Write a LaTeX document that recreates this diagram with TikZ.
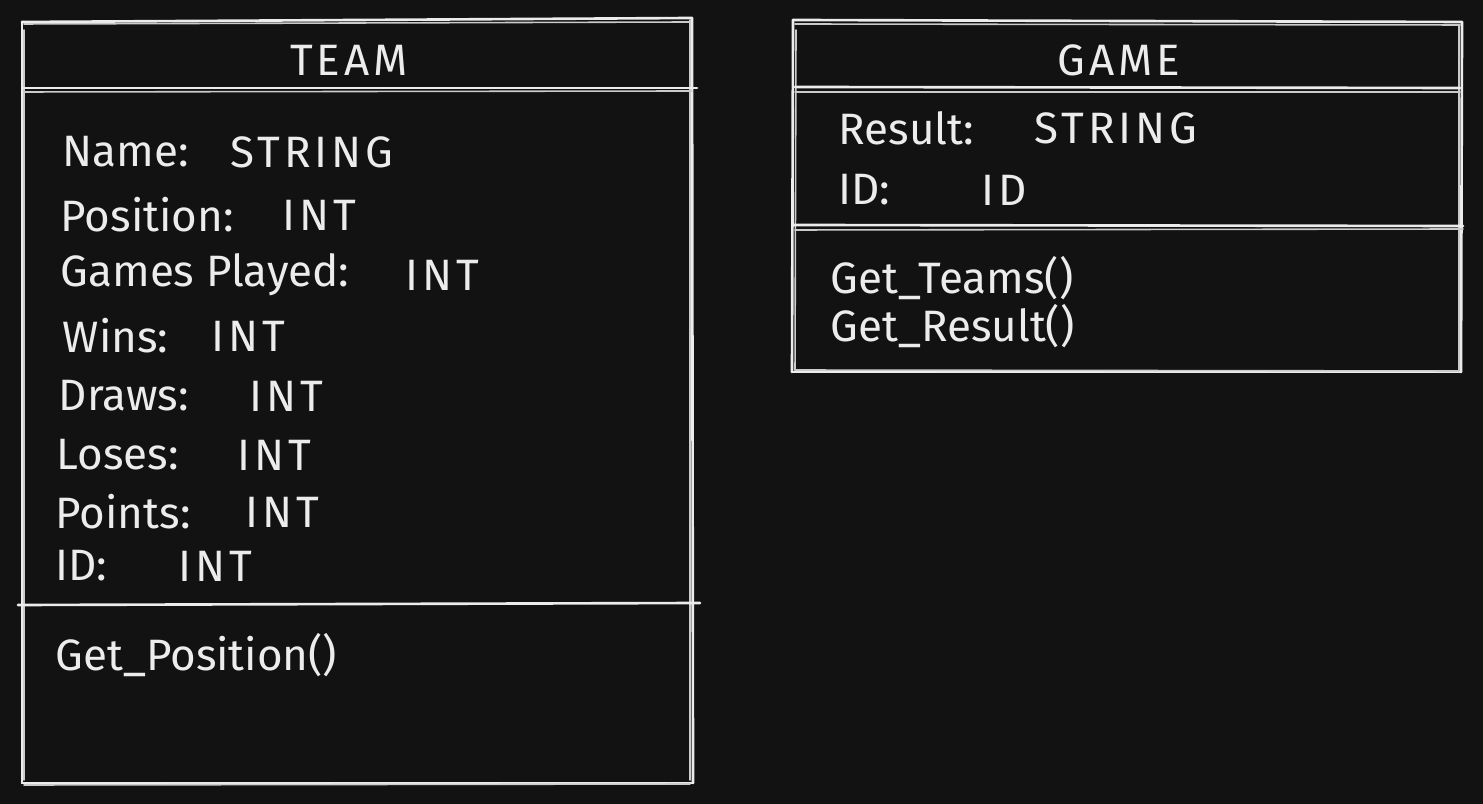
\documentclass[tikz,border=0pt]{standalone}
\usepackage{fontspec}
\setmainfont{Fira Sans}
\newfontfamily\capsfont[LetterSpace=9]{Fira Sans}
\definecolor{bg}{HTML}{121212}
\definecolor{ink}{HTML}{ECECEC}
\tikzset{
  ln/.style={draw=ink, line width=0.75pt, line cap=round},
  ln2/.style={draw=ink!85!bg, line width=0.45pt, line cap=round},
  txt/.style={text=ink, anchor=west, inner sep=0pt, font=\fontsize{12.5}{14}\selectfont},
  val/.style={text=ink, anchor=west, inner sep=0pt, font=\capsfont\fontsize{12.5}{14}\selectfont},
  ttl/.style={text=ink, inner sep=0pt, font=\capsfont\fontsize{12.5}{14}\selectfont}
}
\begin{document}
\begin{tikzpicture}[x=0.01cm,y=-0.01cm]
\fill[bg] (0,0) rectangle (1483,804);
\useasboundingbox (0,0) rectangle (1483,804);

% ---------- TEAM box ----------
\draw[ln] (22,22) -- (692,18);
\draw[ln2] (24,24) -- (690,22);
\draw[ln] (22,22) -- (22,783);
\draw[ln2] (24,30) -- (24,780);
\draw[ln] (692,18) -- (693,783);
\draw[ln2] (690,20) -- (690,780);
\draw[ln] (22,783) -- (693,783);
\draw[ln2] (24,785) -- (690,784);
% header separator (double)
\draw[ln] (22,88) -- (697,88);
\draw[ln2] (24,92) -- (692,91);
% method separator
\draw[ln] (18,605) -- (700,603);

\node[ttl] (teamT) at (349,60) {TEAM};
\node[txt] (tN) at (62,152) {Name:};        \node[val] (tNv) at (230,152) {STRING};
\node[txt] (tP) at (60,215) {Position:};    \node[val] (tPv) at (282,215) {INT};
\node[txt] (tG) at (60,275) {Games Played:};\node[val] (tGv) at (405,275) {INT};
\node[txt] (tW) at (62,336) {Wins:};        \node[val] (tWv) at (211,336) {INT};
\node[txt] (tD) at (58,396) {Draws:};       \node[val] (tDv) at (249,396) {INT};
\node[txt] (tL) at (56,455) {Loses:};       \node[val] (tLv) at (237,455) {INT};
\node[txt] (tPt) at (55,512) {Points:};     \node[val] (tPtv) at (245,512) {INT};
\node[txt] (tI) at (55,566) {ID:};          \node[val] (tIv) at (178,566) {INT};
\node[txt] (tM) at (55,655) {Get\_Position()};

% ---------- GAME box ----------
\draw[ln] (793,20) -- (1462,22);
\draw[ln2] (795,24) -- (1460,25);
\draw[ln] (793,20) -- (792,372);
\draw[ln2] (796,30) -- (795,370);
\draw[ln] (1462,22) -- (1461,372);
\draw[ln2] (1459,26) -- (1459,370);
\draw[ln] (792,372) -- (1461,372);
\draw[ln2] (795,370) -- (1459,371);
% header separator (double)
\draw[ln] (795,87) -- (1460,88);
\draw[ln2] (795,92) -- (1460,92);
% method separator (double)
\draw[ln] (793,225) -- (1463,226);
\draw[ln2] (795,230) -- (1463,229);

\node[ttl] (gameT) at (1119,60) {GAME};
\node[txt] (gR) at (838,128) {Result:};  \node[val] (gRv) at (1034,128) {STRING};
\node[txt] (gI) at (838,190) {ID:};      \node[val] (gIv) at (981,190) {ID};
\node[txt] (gM1) at (830,278) {Get\_Teams()};
\node[txt] (gM2) at (830,326) {Get\_Result()};
\end{tikzpicture}
\end{document}
